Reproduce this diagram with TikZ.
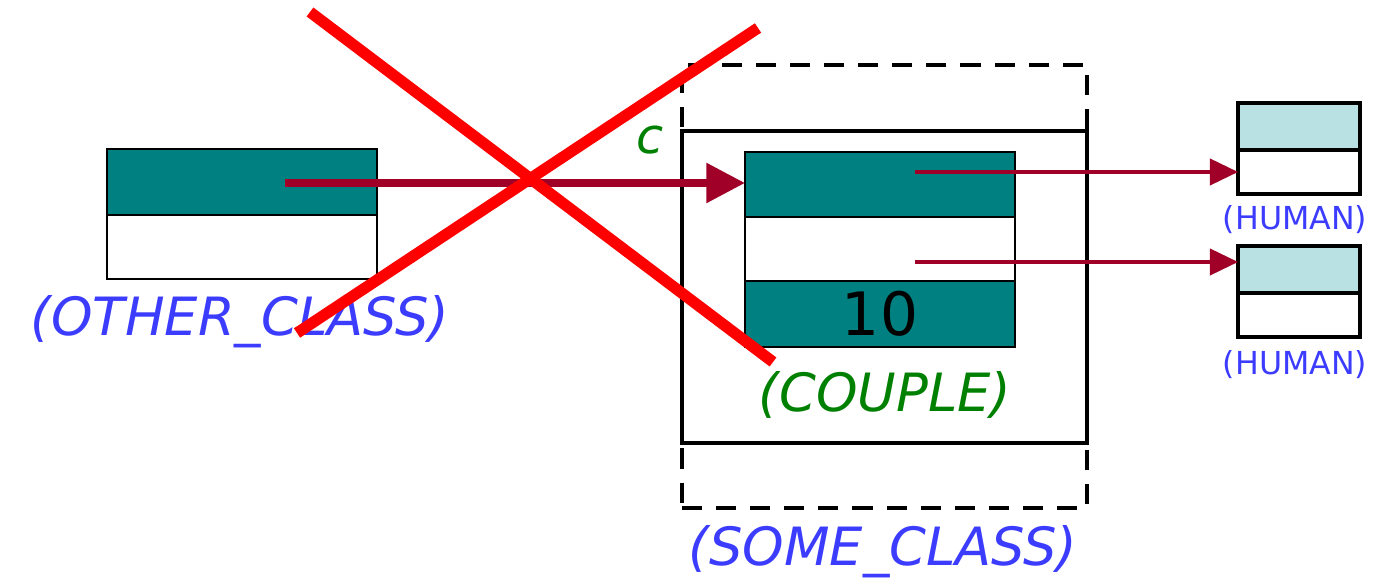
\documentclass[tikz,border=0pt]{standalone}
\usepackage{fontspec}
\setmainfont{DejaVu Sans}
\usetikzlibrary{arrows.meta,positioning}
\definecolor{slot}{HTML}{008080}
\definecolor{hum}{HTML}{B9E1E4}
\definecolor{ref}{HTML}{A00028}
\definecolor{cls}{HTML}{3C3CFF}
\definecolor{loc}{HTML}{008000}
\tikzset{
  field/.style={draw,line width=0.6pt,minimum width=2.7cm,inner sep=0pt,outer sep=0pt},
  hfield/.style={draw,line width=1.2pt,minimum width=1.22cm,inner sep=0pt,outer sep=0pt},
  ptr/.style={ref,line width=0.9pt,-{Triangle[length=8pt,width=7.5pt]}},
  bigptr/.style={ref,line width=2pt,-{Triangle[length=11pt,width=11pt]}},
  cname/.style={text=cls,font=\fontsize{15}{18}\selectfont\itshape,inner sep=0pt},
  hname/.style={text=cls,font=\fontsize{9}{11}\selectfont,inner sep=0pt},
  cross/.style={red,line width=3.2pt}
}
\begin{document}
\begin{tikzpicture}[x=0.01cm,y=-0.01cm]
  \useasboundingbox (0,0) rectangle (1380,580);
  \node[draw,dash pattern=on 5.7pt off 4pt,line width=1.2pt,minimum width=4.05cm,minimum height=4.43cm,inner sep=0pt] (outer) at (884.5,286.5) {};
  \node[draw,line width=1.2pt,fill=white,minimum width=4.05cm,minimum height=3.12cm,inner sep=0pt] (frame) at (884.5,287) {};
  \node[text=loc,font=\fontsize{14}{16}\selectfont\itshape] (c) at (650,140) {c};
  \node[cname] (sc) at (883,552) {(SOME\_CLASS)};
  % other object
  \node[field,fill=slot,minimum height=0.66cm] (oTop) at (242,182) {};
  \node[field,fill=white,minimum height=0.64cm,below=0pt of oTop] (oBot) {};
  \node[cname] (oc) at (240,322) {(OTHER\_CLASS)};
  % couple
  \node[field,fill=slot,minimum height=0.65cm] (cTop) at (880,184.5) {};
  \node[field,fill=white,minimum height=0.64cm,below=0pt of cTop] (cMid) {};
  \node[field,fill=slot,minimum height=0.66cm,below=0pt of cMid,font=\fontsize{17}{20}\selectfont] (cBot) {10};
  \node[cname,text=loc] (cc) at (885,395) {(COUPLE)};
  % humans
  \node[hfield,fill=hum,minimum height=0.47cm] (h1a) at (1299,126.5) {};
  \node[hfield,fill=white,minimum height=0.44cm,below=0pt of h1a] (h1b) {};
  \node[hname] (hc1) at (1295,220) {(HUMAN)};
  \node[hfield,fill=hum,minimum height=0.47cm] (h2a) at (1299,269.5) {};
  \node[hfield,fill=white,minimum height=0.44cm,below=0pt of h2a] (h2b) {};
  \node[hname] (hc2) at (1295,365) {(HUMAN)};
  % references
  \coordinate (oref) at (285,183);
  \coordinate (wife) at (915,172);
  \coordinate (husband) at (915,262);
  \draw[bigptr] (oref) -- (oref -| cTop.west);
  \draw[ptr] (wife) -- (wife -| h1b.west);
  \draw[ptr] (husband) -- (husband -| h2a.west);
  \draw[cross] (310,12) -- (773,362);
  \draw[cross] (758,28) -- (297,333);
\end{tikzpicture}
\end{document}
